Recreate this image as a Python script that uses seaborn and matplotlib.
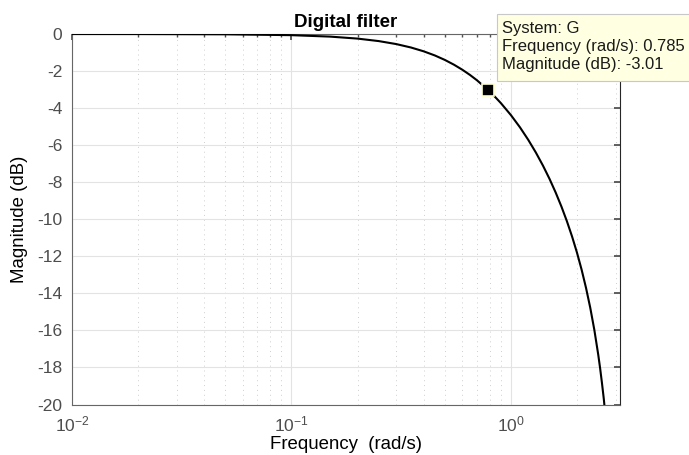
import numpy as np
import pandas as pd
import matplotlib
matplotlib.use("Agg")
import matplotlib.pyplot as plt
import seaborn as sns
from matplotlib.patches import Rectangle
from matplotlib.ticker import LogLocator, NullFormatter

# Frequency response (rad/s, dB)
freq = [0.01, 0.02, 0.05, 0.1, 0.15, 0.2, 0.25, 0.3, 0.35, 0.4, 0.45, 0.5,
        0.55, 0.6, 0.65, 0.7, 0.785, 0.85, 0.9, 1.0, 1.1, 1.2, 1.3, 1.4,
        1.5, 1.6, 1.7, 1.8, 1.9, 2.0, 2.1, 2.2, 2.3, 2.4, 2.5, 2.55, 2.6,
        2.65, 2.7]
mag_db = [-0.0006, -0.0025, -0.016, -0.063, -0.141, -0.248, -0.383, -0.543,
          -0.727, -0.933, -1.157, -1.399, -1.656, -1.925, -2.205, -2.496,
          -3.01, -3.416, -3.729, -4.377, -5.039, -5.715, -6.403, -7.105,
          -7.823, -8.561, -9.321, -10.110, -10.933, -11.800, -12.722,
          -13.711, -14.786, -15.973, -17.307, -18.041, -18.844, -19.690,
          -20.670]

y_ticks = [0, -2, -4, -6, -8, -10, -12, -14, -16, -18, -20]
x_ticks = [0.01, 0.1, 1.0]
x_tick_labels = ["$10^{-2}$", "$10^{-1}$", "$10^{0}$"]

tip_freq = 0.785
tip_mag = -3.01
tip_lines = ["System: G", "Frequency (rad/s): 0.785", "Magnitude (dB): -3.01"]

sns.set_theme(style="white")
plt.rcParams["font.family"] = ["Liberation Sans", "DejaVu Sans"]
plt.rcParams["mathtext.fontset"] = "custom"
plt.rcParams["mathtext.rm"] = "Liberation Sans"
plt.rcParams["mathtext.it"] = "Liberation Sans"

fig = plt.figure(figsize=(6.89, 4.55), dpi=100)
ax = fig.add_axes([72 / 689, 1 - 404.5 / 455, (620 - 72) / 689, (404.5 - 34) / 455])

df = pd.DataFrame({"freq": freq, "mag": mag_db})
sns.lineplot(data=df, x="freq", y="mag", ax=ax, color="black", lw=1.5,
             estimator=None, sort=False, zorder=3)

ax.set_xscale("log")
ax.set_xlim(0.01, np.pi)
ax.set_ylim(-20, 0)
ax.set_xticks(x_ticks)
ax.set_xticklabels(x_tick_labels)
ax.xaxis.set_minor_locator(LogLocator(base=10, subs=np.arange(2, 10)))
ax.xaxis.set_minor_formatter(NullFormatter())
ax.set_yticks(y_ticks)
ax.set_yticklabels([str(v) for v in y_ticks])

gray = "#4d4d4d"
ax.tick_params(axis="y", which="major", direction="in", length=4,
               color=gray, labelcolor=gray, labelsize=12.5, right=True, pad=7)
ax.tick_params(axis="x", which="major", direction="in", length=4,
               color=gray, labelcolor=gray, labelsize=12.5, top=True, pad=7)
ax.tick_params(axis="both", which="minor", direction="in", length=2.5,
               color=gray, top=True, right=True)
for s in ax.spines.values():
    s.set_color("#666666")
    s.set_linewidth(0.8)
ax.spines["right"].set_color("#262626")

ax.grid(True, which="major", color="#e3e3e3", lw=0.8, zorder=0)
ax.grid(True, which="minor", axis="x", color="#cfcfcf", lw=0.7,
        linestyle=(0, (1, 4)), zorder=0)
ax.set_axisbelow(True)

ax.set_title("Digital filter", fontsize=13.5, fontweight="bold", pad=5,
             color="black")
ax.set_xlabel("Frequency  (rad/s)", fontsize=13.4, color="black")
ax.set_ylabel("Magnitude (dB)", fontsize=13.4, color="black")
ax.xaxis.set_label_coords(0.5, -(449 - 404.5) / 370.5)
ax.xaxis.label.set_va("baseline")
ax.yaxis.set_label_coords(-(72 - 28) / 548, 0.5)

ax.plot([tip_freq], [tip_mag], marker="s", markersize=8,
        markerfacecolor="black", markeredgecolor="#ffffcc",
        markeredgewidth=1.2, zorder=6, clip_on=False)

# Data tip box (figure pixels)
W, H = 689, 455
box = Rectangle((497 / W, 1 - 81 / H), 200 / W, 67 / H,
                transform=fig.transFigure, facecolor="#ffffe1",
                edgecolor="#c8c8c8", lw=0.8, zorder=10, clip_on=False)
fig.patches.append(box)
for i, line in enumerate(tip_lines):
    fig.text(502 / W, 1 - (28 + 18.5 * i) / H, line, fontsize=12,
             color="#1a1a1a", va="center", ha="left", zorder=11)

fig.savefig("out.png", dpi=100)
